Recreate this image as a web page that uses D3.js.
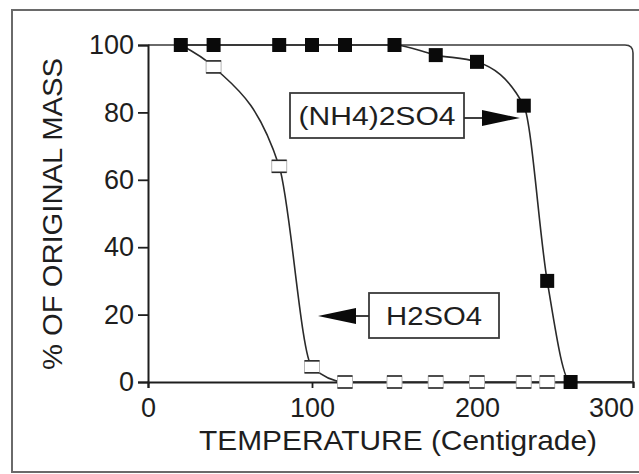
<!DOCTYPE html>
<html>
<head>
<meta charset="utf-8">
<script src="https://cdn.jsdelivr.net/npm/d3@7"></script>
<style>
  html, body { margin: 0; padding: 0; background: #fff; }
  svg { display: block; font-family: "Liberation Sans", Arial, Helvetica, sans-serif; }
</style>
</head>
<body>
<svg id="chart" width="639" height="474"></svg>
<script>
// Mass loss on heating: temperature (°C) against % of original mass
const ammoniumTemps = [20, 40, 80, 100, 120, 150, 175, 200, 230, 245, 260];
const ammoniumMass  = [100, 100, 100, 100, 100, 100, 97, 95, 82, 30, 0];

const acidTemps = [20, 40, 80, 100, 120, 150, 175, 200, 230, 245];
const acidMass  = [100, 93.5, 64, 4.5, 0, 0, 0, 0, 0, 0];

const xTicks = [0, 100, 200, 300];
const yTicks = [0, 20, 40, 60, 80, 100];

const xTitle = "TEMPERATURE (Centigrade)";
const yTitle = "% OF ORIGINAL MASS";
const ammoniumLabel = "(NH4)2SO4";
const acidLabel = "H2SO4";

const ink = "#1e1e1e";
const svg = d3.select("#chart");

// Scales (the printed axis is slightly compressed toward the right end)
const x = d3.scaleLinear().domain([0, 100, 200, 300]).range([148, 312, 477, 633]);
const y = d3.scaleLinear().domain([0, 100]).range([382, 45]);

// Outer figure border
svg.append("rect")
  .attr("x", 12).attr("y", 10).attr("width", 660).attr("height", 462)
  .attr("fill", "none").attr("stroke", "#6a6a6a").attr("stroke-width", 2);

// Plot frame: top and right edges with a rounded corner
const r = 8;
svg.append("path")
  .attr("d", `M${x(0)},${y(100)} H${x(300) - r} Q${x(300)},${y(100)} ${x(300)},${y(100) + r} V${y(0)}`)
  .attr("fill", "none").attr("stroke", "#3a3a3a").attr("stroke-width", 1.6);

// Axes
const yAxis = d3.axisLeft(y).tickValues(yTicks).tickSize(10).tickPadding(4);
const xAxis = d3.axisBottom(x).tickValues(xTicks).tickSize(6).tickPadding(10);

const gy = svg.append("g").attr("transform", `translate(${x(0)},0)`).call(yAxis);
const gx = svg.append("g").attr("transform", `translate(0,${y(0)})`).call(xAxis);

[gx, gy].forEach(g => {
  g.select(".domain").attr("stroke", ink).attr("stroke-width", 2);
  g.selectAll(".tick line").attr("stroke", ink).attr("stroke-width", 1.8);
  g.selectAll(".tick text").attr("fill", ink).attr("font-size", 27)
    .attr("font-family", "'Liberation Sans', Arial, sans-serif");
});
// keep the last x label inside the figure
gx.selectAll(".tick text").filter(d => d === 300).attr("dx", -22);

// Axis titles
svg.append("text")
  .attr("x", 398).attr("y", 450)
  .attr("text-anchor", "middle").attr("font-size", 28).attr("fill", ink)
  .attr("textLength", 398).attr("lengthAdjust", "spacingAndGlyphs")
  .text(xTitle);

svg.append("text")
  .attr("transform", "translate(62,214) rotate(-90)")
  .attr("text-anchor", "middle").attr("font-size", 28).attr("fill", ink)
  .attr("textLength", 312).attr("lengthAdjust", "spacingAndGlyphs")
  .text(yTitle);

// Smooth curves through the measured points
const line = d3.line()
  .x(d => x(d[0])).y(d => y(d[1]))
  .curve(d3.curveMonotoneX);

const acidPts = acidTemps.map((t, i) => [t, acidMass[i]]);
const ammPts = ammoniumTemps.map((t, i) => [t, ammoniumMass[i]]);

svg.append("path").datum(acidPts.concat([[300, 0]]))
  .attr("d", line).attr("fill", "none")
  .attr("stroke", "#2a2a2a").attr("stroke-width", 1.6);

svg.append("path").datum(ammPts.concat([[300, 0]]))
  .attr("d", line).attr("fill", "none")
  .attr("stroke", "#2a2a2a").attr("stroke-width", 1.6);

// Open markers (H2SO4): faint sides, dark top and bottom edges
const ow = 15, oh = 12;
const openG = svg.append("g").selectAll("g").data(acidPts.slice(1)).join("g")
  .attr("transform", d => `translate(${x(d[0])},${y(d[1])})`);
openG.append("rect")
  .attr("x", -ow / 2).attr("y", -oh / 2).attr("width", ow).attr("height", oh)
  .attr("fill", "#fff").attr("stroke", "#b5b5b5").attr("stroke-width", 1);
openG.append("line")
  .attr("x1", -ow / 2).attr("x2", ow / 2).attr("y1", -oh / 2).attr("y2", -oh / 2)
  .attr("stroke", "#2a2a2a").attr("stroke-width", 1.6);
openG.append("line")
  .attr("x1", -ow / 2).attr("x2", ow / 2).attr("y1", oh / 2).attr("y2", oh / 2)
  .attr("stroke", "#2a2a2a").attr("stroke-width", 1.6);

// Filled markers ((NH4)2SO4)
const fs = 14;
svg.append("g").selectAll("rect").data(ammPts).join("rect")
  .attr("x", d => x(d[0]) - fs / 2).attr("y", d => y(d[1]) - fs / 2)
  .attr("width", fs).attr("height", fs)
  .attr("fill", "#0a0a0a");

// Boxed labels with arrows
function callout(box, label, textW, from, tip) {
  const g = svg.append("g");
  g.append("rect")
    .attr("x", box[0]).attr("y", box[1]).attr("width", box[2]).attr("height", box[3])
    .attr("fill", "#fff").attr("stroke", "#3a3a3a").attr("stroke-width", 1.8);
  g.append("text")
    .attr("x", box[0] + box[2] / 2).attr("y", box[1] + box[3] / 2 + 9)
    .attr("text-anchor", "middle").attr("font-size", 25).attr("fill", ink)
    .attr("textLength", textW).attr("lengthAdjust", "spacingAndGlyphs")
    .text(label);
  const dir = Math.sign(tip[0] - from[0]);
  const headLen = 38, headHalf = 8;
  const baseX = tip[0] - dir * headLen;
  g.append("line")
    .attr("x1", from[0]).attr("y1", from[1]).attr("x2", baseX).attr("y2", tip[1])
    .attr("stroke", "#2a2a2a").attr("stroke-width", 1.8);
  g.append("path")
    .attr("d", `M${tip[0]},${tip[1]} L${baseX},${tip[1] - headHalf} L${baseX},${tip[1] + headHalf} Z`)
    .attr("fill", "#0a0a0a");
}

callout([290, 93, 174, 45], ammoniumLabel, 157, [464, 118], [520, 118]);
callout([369, 293, 130, 45], acidLabel, 96, [369, 316], [318, 316]);
</script>
</body>
</html>
